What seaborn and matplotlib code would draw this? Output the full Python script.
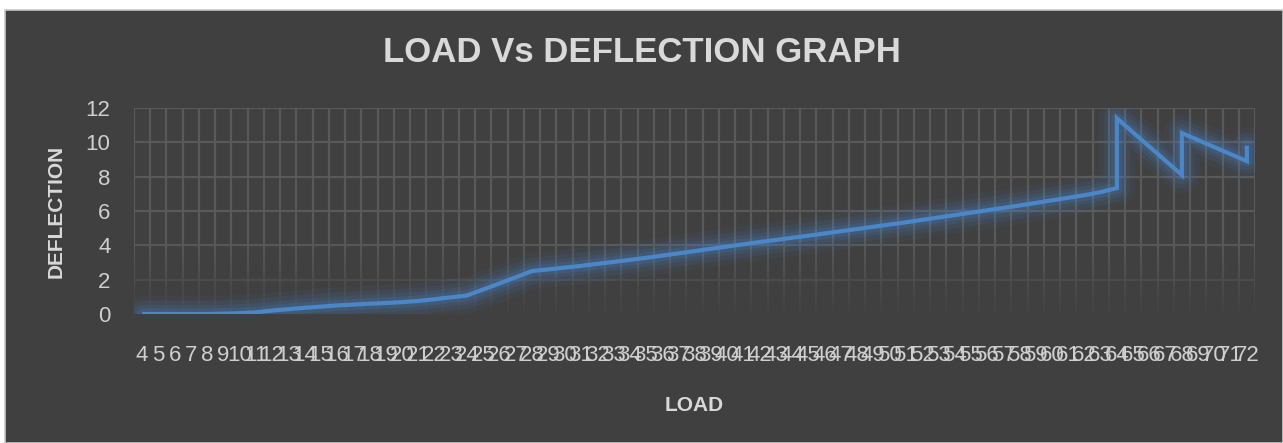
import numpy as np
import pandas as pd
import matplotlib
matplotlib.use("Agg")
import matplotlib.pyplot as plt
from matplotlib.patches import Rectangle
import seaborn as sns

# ---- data ----
load_labels = [str(v) for v in range(4, 73)]
load = [4, 5, 6, 7, 8, 9, 10, 11, 12, 13, 14, 15, 16, 17, 18, 19, 20, 21, 22, 23,
        24, 25, 26, 27, 28, 29, 30, 31, 32, 33, 34, 35, 36, 37, 38, 39, 40, 41, 42,
        43, 44, 45, 46, 47, 48, 49, 50, 51, 52, 53, 54, 55, 56, 57, 58, 59, 60, 61,
        62, 63, 64, 64, 65, 66, 67, 68, 68, 69, 70, 71, 72, 72]
deflection = [0.0, 0.0, 0.0, 0.0, 0.0, 0.02, 0.05, 0.1, 0.2, 0.28, 0.36, 0.43, 0.5,
              0.55, 0.6, 0.64, 0.69, 0.76, 0.86, 0.97, 1.08, 1.43, 1.78, 2.14, 2.5,
              2.6, 2.7, 2.8, 2.92, 3.03, 3.15, 3.27, 3.4, 3.53, 3.66, 3.8, 3.93, 4.06,
              4.19, 4.31, 4.44, 4.56, 4.69, 4.82, 4.95, 5.08, 5.21, 5.34, 5.48, 5.62,
              5.76, 5.9, 6.04, 6.18, 6.32, 6.47, 6.62, 6.77, 6.92, 7.1, 7.34, 11.4,
              10.57, 9.75, 8.92, 8.1, 10.54, 10.13, 9.72, 9.31, 8.9, 9.8]
y_ticks = [0, 2, 4, 6, 8, 10, 12]

df = pd.DataFrame({"LOAD": load, "DEFLECTION": deflection})

BG = "#404040"
TXT = "#d9d9d9"
GRID = "#595959"
LINE = "#4a86c8"
NARROW = ["Liberation Sans Narrow", "Liberation Sans", "DejaVu Sans"]

sns.set_theme(style="dark")
plt.rcParams["font.family"] = NARROW

fig = plt.figure(figsize=(12.83, 4.43), dpi=100, facecolor="white")
# dark chart area with thin light border (white strip at top/left)
bg_rect = Rectangle((5 / 1283, 0), 1 - 5 / 1283, 1 - 10 / 443,
                    transform=fig.transFigure, facecolor=BG,
                    edgecolor="#c8c8c8", linewidth=1.2, zorder=-10)
fig.patches.append(bg_rect)

ax = fig.add_axes([134 / 1283, 1 - 314 / 443, (1255 - 134) / 1283, (314 - 108) / 443])
ax.set_zorder(1)
ax.set_facecolor(BG)

# glow layers
for lw, a in [(26, 0.07), (19, 0.09), (13, 0.12), (8, 0.18)]:
    sns.lineplot(data=df, x="LOAD", y="DEFLECTION", sort=False, estimator=None,
                 ax=ax, color=LINE, linewidth=lw, alpha=a, zorder=4,
                 solid_capstyle="round", solid_joinstyle="round")
sns.lineplot(data=df, x="LOAD", y="DEFLECTION", sort=False, estimator=None,
             ax=ax, color=LINE, linewidth=3.0, zorder=5,
             solid_capstyle="butt", solid_joinstyle="miter")

ax.set_xlim(3.5, 72.5)
ax.set_ylim(0, 12)
ax.set_yticks(y_ticks)
ax.set_yticklabels([str(v) for v in y_ticks])
ax.set_xticks(list(range(4, 73)))
ax.set_xticklabels(load_labels)
ax.set_xticks(np.arange(3.5, 73.0, 1.0), minor=True)

ax.grid(False)
ax.grid(True, which="minor", axis="x", color=GRID, linewidth=1.6, zorder=1)
ax.grid(True, which="major", axis="y", color=GRID, linewidth=1.6, zorder=1)
ax.set_axisbelow(True)

# fade of the gridlines toward the bottom
grad = np.zeros((100, 2, 4))
rgb = matplotlib.colors.to_rgb(BG)
grad[..., 0], grad[..., 1], grad[..., 2] = rgb
alpha = np.clip(np.linspace(0.95, 0.0, 100), 0, 1)
grad[..., 3] = alpha[:, None]
ax.imshow(grad, extent=(3.5, 72.5, 0, 4.2), origin="lower", aspect="auto",
          zorder=2, interpolation="bilinear")
ax.set_xlim(3.5, 72.5)
ax.set_ylim(0, 12)

for s in ax.spines.values():
    s.set_visible(False)

ax.tick_params(axis="both", which="both", length=0, colors=TXT)
ax.tick_params(axis="y", labelsize=16, pad=17)
ax.tick_params(axis="x", labelsize=16, pad=22)
for lab in ax.get_xticklabels() + ax.get_yticklabels():
    lab.set_color("#cfcfcf")

ax.set_xlabel("LOAD", fontsize=15, fontweight="bold", color=TXT, labelpad=22)
ax.set_ylabel("DEFLECTION", fontsize=15, fontweight="bold", color=TXT, labelpad=14)

fig.text(642 / 1283, 1 - 53 / 443, "LOAD Vs DEFLECTION GRAPH", ha="center",
         va="center", fontsize=25, fontweight="bold", color=TXT)

fig.savefig("out.png", dpi=100, facecolor=fig.get_facecolor())
